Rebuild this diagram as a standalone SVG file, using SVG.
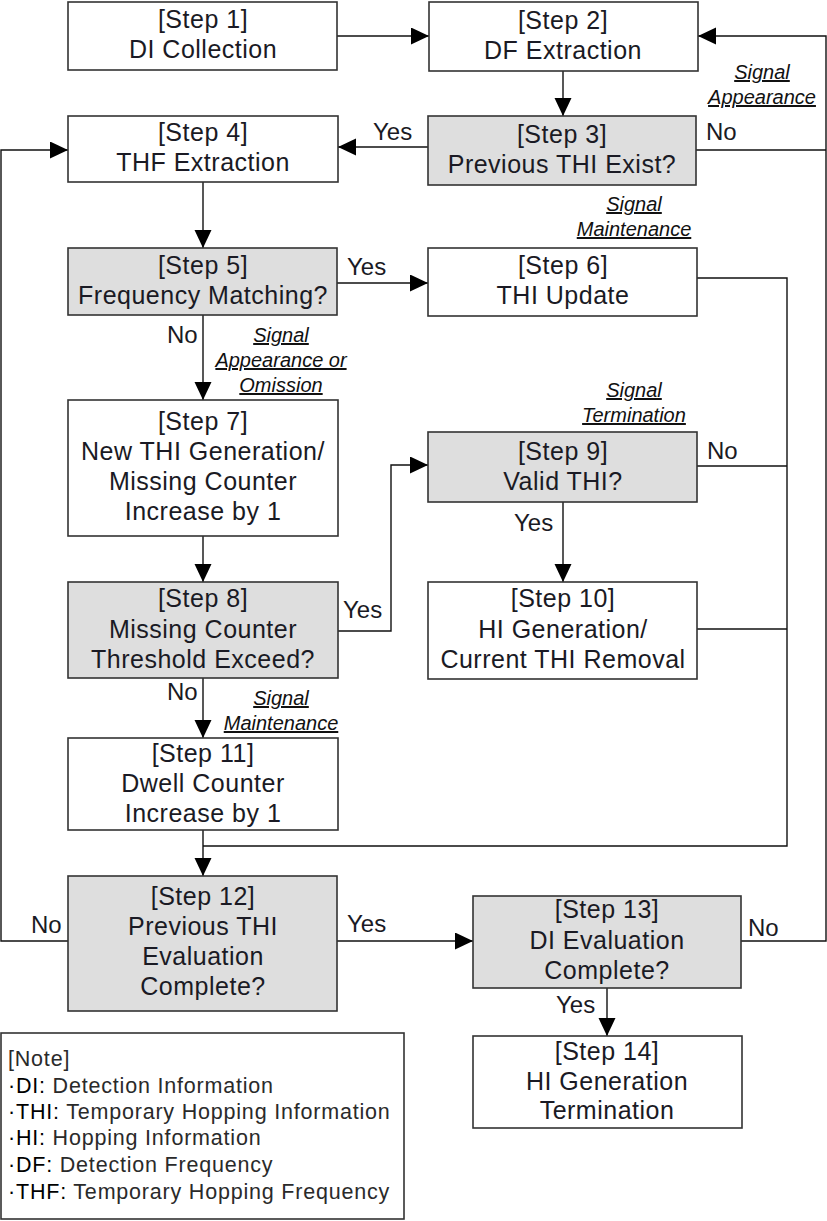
<svg xmlns="http://www.w3.org/2000/svg" width="827" height="1221" viewBox="0 0 827 1221">
<defs>
<marker id="arr" markerUnits="userSpaceOnUse" markerWidth="20" markerHeight="18" refX="18" refY="8.5" orient="auto">
<path d="M0,0 L18,8.5 L0,17 z" fill="#000"/>
</marker>
<style>
.box{fill:#fff;stroke:#333;stroke-width:1.6}
.dec{fill:#dedede;stroke:#333;stroke-width:1.6}
.t{font-family:"Liberation Sans",Arial,sans-serif;font-size:25px;fill:#1a1a24;text-anchor:middle;letter-spacing:0.5px}
.lbl{font-family:"Liberation Sans",Arial,sans-serif;font-size:24px;fill:#1a1a24}
.sig{font-family:"Liberation Sans",Arial,sans-serif;font-size:20px;font-style:italic;fill:#111;text-anchor:middle;text-decoration:underline}
.note{font-family:"Liberation Sans",Arial,sans-serif;font-size:21.5px;fill:#2a2a2a;letter-spacing:0.8px}
.c{fill:none;stroke:#111;stroke-width:1.4}
</style>
</defs>
<g id="connectors">
<line class="c" x1="337" y1="36" x2="429" y2="36" marker-end="url(#arr)"/>
<line class="c" x1="563" y1="71" x2="563" y2="116" marker-end="url(#arr)"/>
<line class="c" x1="428" y1="147" x2="338" y2="147" marker-end="url(#arr)"/>
<polyline class="c" points="696,150 826,150"/>
<polyline class="c" points="741,941 826,941 826,36 698,36" marker-end="url(#arr)"/>
<line class="c" x1="203" y1="182" x2="203" y2="248" marker-end="url(#arr)"/>
<polyline class="c" points="68,941 1,941 1,150 68,150" marker-end="url(#arr)"/>
<line class="c" x1="337" y1="283" x2="428" y2="283" marker-end="url(#arr)"/>
<line class="c" x1="203" y1="315" x2="203" y2="400" marker-end="url(#arr)"/>
<polyline class="c" points="697,278 787,278 787,846 203,846"/>
<line class="c" x1="697" y1="466" x2="787" y2="466"/>
<line class="c" x1="697" y1="629" x2="787" y2="629"/>
<line class="c" x1="203" y1="536" x2="203" y2="582" marker-end="url(#arr)"/>
<polyline class="c" points="338,631 391,631 391,465 428,465" marker-end="url(#arr)"/>
<line class="c" x1="563" y1="502" x2="563" y2="582" marker-end="url(#arr)"/>
<line class="c" x1="203" y1="678" x2="203" y2="738" marker-end="url(#arr)"/>
<line class="c" x1="203" y1="830" x2="203" y2="876" marker-end="url(#arr)"/>
<line class="c" x1="337" y1="941" x2="473" y2="941" marker-end="url(#arr)"/>
<line class="c" x1="607" y1="988" x2="607" y2="1036" marker-end="url(#arr)"/>
<text class="lbl" x="373" y="140">Yes</text>
<text class="lbl" x="706" y="140">No</text>
<text class="lbl" x="347" y="275">Yes</text>
<text class="lbl" x="167" y="343">No</text>
<text class="lbl" x="707" y="459">No</text>
<text class="lbl" x="514" y="531">Yes</text>
<text class="lbl" x="343" y="618">Yes</text>
<text class="lbl" x="167" y="700">No</text>
<text class="lbl" x="31" y="933">No</text>
<text class="lbl" x="347" y="932">Yes</text>
<text class="lbl" x="748" y="936">No</text>
<text class="lbl" x="556" y="1013">Yes</text>
<text class="sig" x="762" y="79">Signal</text>
<text class="sig" x="762" y="104">Appearance</text>
<text class="sig" x="634" y="211">Signal</text>
<text class="sig" x="634" y="236">Maintenance</text>
<text class="sig" x="281" y="342">Signal</text>
<text class="sig" x="281" y="367">Appearance or</text>
<text class="sig" x="281" y="392">Omission</text>
<text class="sig" x="634" y="397">Signal</text>
<text class="sig" x="634" y="422">Termination</text>
<text class="sig" x="281" y="705">Signal</text>
<text class="sig" x="281" y="730">Maintenance</text>
</g>
<g id="step1"><rect class="box" x="68" y="2" width="269" height="68"/><text class="t" x="203" y="28">[Step 1]</text><text class="t" x="203" y="58">DI Collection</text></g>
<g id="step2"><rect class="box" x="429" y="2" width="269" height="69"/><text class="t" x="563" y="29">[Step 2]</text><text class="t" x="563" y="59">DF Extraction</text></g>
<g id="step3"><rect class="dec" x="428" y="116" width="268" height="69"/><text class="t" x="562" y="143">[Step 3]</text><text class="t" x="562" y="173">Previous THI Exist?</text></g>
<g id="step4"><rect class="box" x="68" y="116" width="270" height="66"/><text class="t" x="203" y="141">[Step 4]</text><text class="t" x="203" y="171">THF Extraction</text></g>
<g id="step5"><rect class="dec" x="68" y="248" width="269" height="67"/><text class="t" x="203" y="274">[Step 5]</text><text class="t" x="203" y="304">Frequency Matching?</text></g>
<g id="step6"><rect class="box" x="428" y="248" width="269" height="68"/><text class="t" x="563" y="274">[Step 6]</text><text class="t" x="563" y="304">THI Update</text></g>
<g id="step7"><rect class="box" x="68" y="400" width="270" height="136"/><text class="t" x="203" y="430">[Step 7]</text><text class="t" x="203" y="460">New THI Generation/</text><text class="t" x="203" y="490">Missing Counter</text><text class="t" x="203" y="520">Increase by 1</text></g>
<g id="step9"><rect class="dec" x="428" y="432" width="269" height="70"/><text class="t" x="563" y="460">[Step 9]</text><text class="t" x="563" y="490">Valid THI?</text></g>
<g id="step8"><rect class="dec" x="68" y="582" width="270" height="96"/><text class="t" x="203" y="607">[Step 8]</text><text class="t" x="203" y="638">Missing Counter</text><text class="t" x="203" y="668">Threshold Exceed?</text></g>
<g id="step10"><rect class="box" x="428" y="582" width="269" height="97"/><text class="t" x="563" y="607">[Step 10]</text><text class="t" x="563" y="638">HI Generation/</text><text class="t" x="563" y="668">Current THI Removal</text></g>
<g id="step11"><rect class="box" x="68" y="738" width="270" height="92"/><text class="t" x="203" y="762">[Step 11]</text><text class="t" x="203" y="792">Dwell Counter</text><text class="t" x="203" y="822">Increase by 1</text></g>
<g id="step12"><rect class="dec" x="68" y="876" width="269" height="135"/><text class="t" x="203" y="905">[Step 12]</text><text class="t" x="203" y="935">Previous THI</text><text class="t" x="203" y="965">Evaluation</text><text class="t" x="203" y="995">Complete?</text></g>
<g id="step13"><rect class="dec" x="473" y="896" width="268" height="92"/><text class="t" x="607" y="918">[Step 13]</text><text class="t" x="607" y="949">DI Evaluation</text><text class="t" x="607" y="979">Complete?</text></g>
<g id="step14"><rect class="box" x="473" y="1036" width="269" height="92"/><text class="t" x="607" y="1060">[Step 14]</text><text class="t" x="607" y="1090">HI Generation</text><text class="t" x="607" y="1119">Termination</text></g>
<g id="note"><rect class="box" x="1" y="1033" width="403" height="186"/>
<text class="note" x="8" y="1066">[Note]</text>
<text class="note" x="8" y="1093"><tspan fill="#000">·DI:</tspan> Detection Information</text>
<text class="note" x="8" y="1119"><tspan fill="#000">·THI:</tspan> Temporary Hopping Information</text>
<text class="note" x="8" y="1145"><tspan fill="#000">·HI:</tspan> Hopping Information</text>
<text class="note" x="8" y="1172"><tspan fill="#000">·DF:</tspan> Detection Frequency</text>
<text class="note" x="8" y="1199"><tspan fill="#000">·THF:</tspan> Temporary Hopping Frequency</text>
</g>
</svg>
